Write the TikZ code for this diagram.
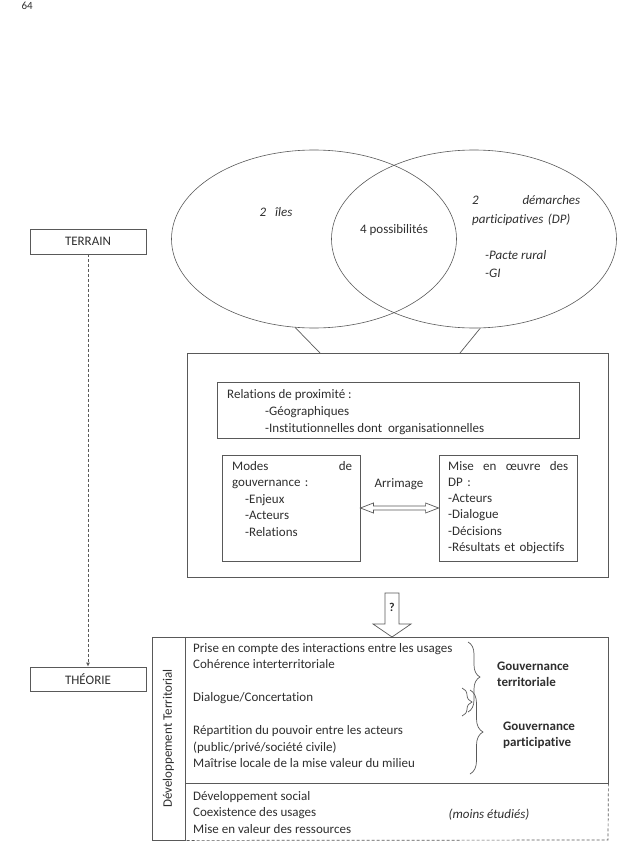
\documentclass[tikz,border=0pt]{standalone}
\usepackage{fontspec}
\setmainfont{Carlito}[Ligatures=NoCommon]
\usetikzlibrary{arrows.meta,positioning,calc,shapes.geometric,decorations.pathreplacing}
\definecolor{inkgray}{rgb}{0.18,0.18,0.18}
\definecolor{linegray}{rgb}{0.35,0.35,0.35}
\tikzset{
  venn/.style={ellipse, draw=linegray, line width=0.6pt, minimum width=285pt,
               minimum height=178pt, inner sep=0pt},
  box/.style={draw=linegray, line width=0.8pt, inner sep=0pt},
  txt/.style={anchor=north west, inner sep=0pt, align=left, text=inkgray},
  tag/.style={box, minimum width=116pt, minimum height=25pt, text=inkgray},
  link/.style={draw=linegray, line width=0.7pt},
  % hollow block arrows (Arrimage, ?)
  hollow/.style={draw=linegray, line width=0.7pt, fill=white, line join=miter},
  curly/.style={decorate, decoration={brace, amplitude=#1}, draw=linegray, line width=0.7pt},
}

\begin{document}
\begin{tikzpicture}[x=1pt, y=-1pt, font=\fontsize{13}{16.5}\selectfont,
    dasharrow/.style={-{Latex[length=4pt,width=4pt]}, draw=linegray, line width=0.8pt,
                      dash pattern=on 3pt off 2pt},
    dashedge/.style={draw=linegray, line width=0.7pt, dash pattern=on 3pt off 2pt}]
  \useasboundingbox (0,0) rectangle (643,843);
  \node[anchor=base west, text=inkgray, font=\fontsize{11}{13}\selectfont] (page) at (18,10) {64};

  % two sets and their overlap
  \node[venn] (iles) at (314,239) {};
  \node[venn] (dp) at (474,239) {};
  \node[text=inkgray, font=\fontsize{13}{16.5}\selectfont\itshape] (ilesT) at (276,212) {2\hspace{9pt}îles};
  \node[text=inkgray] (poss) at (394,230) {4 possibilités};
  \node[txt, text width=108pt, font=\fontsize{13}{19}\selectfont\itshape] (dpT) at (472,195)
    {2\hfill démarches\\participatives (DP)};
  \node[txt, font=\fontsize{13}{18}\selectfont\itshape] (pacte) at (485,250) {-Pacte rural\\-GI};

  % analysis frame
  \node[box, minimum width=421pt, minimum height=224pt] (frame) at (397.5,465) {};
  \coordinate (fl) at (320,353);
  \coordinate (fr) at (460,353);
  \draw[link] (iles.-102) -- (fl);
  \draw[link] (dp.-86) -- (fr);

  \node[box, minimum width=362pt, minimum height=56pt] (prox) at (398,410) {};
  \node[txt, font=\fontsize{13}{17}\selectfont] (proxT) at (227,389)
    {Relations de proximité :\\
     \hspace*{38pt}-Géographiques\\
     \hspace*{38pt}-Institutionnelles dont\ \ organisationnelles};

  \node[box, minimum width=138pt, minimum height=106pt] (modes) at (291,508) {};
  \node[txt, text width=120pt] (modesT) at (232,461)
    {Modes\hfill de\\gouvernance :\\
     \hspace*{13pt}-Enjeux\\\hspace*{13pt}-Acteurs\\\hspace*{13pt}-Relations};
  \node[box, minimum width=138pt, minimum height=106pt] (mise) at (508,508) {};
  \node[txt, text width=120pt, font=\fontsize{13}{16.2}\selectfont] (miseT) at (448,461)
    {Mise\hfill en\hfill œuvre\hfill des\\DP :\\-Acteurs\\-Dialogue\\-Décisions\\-Résultats et objectifs};

  \node[text=inkgray] (arrim) at (399,484) {Arrimage};
  \draw[hollow] (modes.east) -- ++(13,-5) -- ++(0,3) -- ($(mise.west)+(-13,-2)$) -- ++(0,-3)
    -- (mise.west) -- ++(-13,5) -- ++(0,-3) -- ($(modes.east)+(13,2)$) -- ++(0,3) -- cycle;

  % territorial development table
  \node[box, minimum width=33pt, minimum height=203pt] (side) at (168.5,738.5) {};
  \node[rotate=90, text=inkgray] (devT) at (side.center) {Développement Territorial};
  \node[box, minimum width=423pt, minimum height=146pt] (gov) at (396.5,710) {};
  \coordinate (corner) at (608,840);
  \draw[dashedge] (gov.south east) -- (corner) -- (side.south east);

  \coordinate (qtop) at (392,593);
  \draw[hollow] ($(qtop)+(-7,0)$) -- ++(14,0) -- ++(0,31) -- ++(12,0) -- ++(-19,13)
    -- ++(-19,-13) -- ++(12,0) -- cycle;
  \node[text=inkgray, font=\fontsize{12}{14}\selectfont\bfseries] (qmark) at (392,607) {?};

  \node[txt] (govT) at (193,643)
    {Prise en compte des interactions entre les usages\\
     Cohérence interterritoriale\\[16.5pt]
     Dialogue/Concertation\\[16.5pt]
     Répartition du pouvoir entre les acteurs\\
     (public/privé/société civile)\\
     Maîtrise locale de la mise valeur du milieu};
  \node[txt] (restT) at (193,791)
    {Développement social\\Coexistence des usages\\Mise en valeur des ressources};
  \node[text=inkgray, font=\fontsize{13}{16.5}\selectfont\itshape] (moins) at (489,815) {(moins étudiés)};

  \draw[curly=12pt] (468,642) -- (468,712);
  \draw[curly=10pt] (462,688) -- (462,716);
  \draw[curly=13pt] (470,690) -- (470,774);
  \node[txt, font=\fontsize{13}{16}\selectfont\bfseries] (gterr) at (497,662) {Gouvernance\\territoriale};
  \node[txt, font=\fontsize{13}{16}\selectfont\bfseries] (gpart) at (503,722) {Gouvernance\\participative};

  % field / theory
  \node[tag] (terrain) at (88,241.5) {TERRAIN};
  \node[tag, minimum height=24pt] (theorie) at (88,679) {THÉORIE};
  \draw[dasharrow] (terrain) -- (theorie);
\end{tikzpicture}
\end{document}
